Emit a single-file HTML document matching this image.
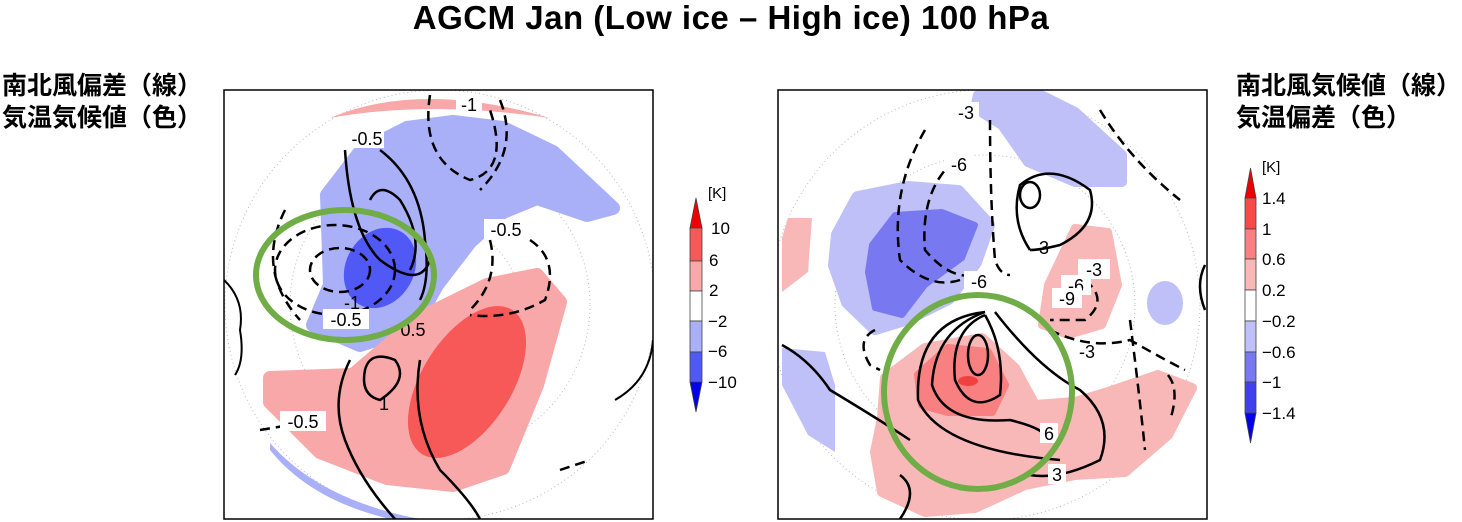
<!DOCTYPE html>
<html><head><meta charset="utf-8"><style>
body{margin:0;background:#fff;width:1462px;height:522px;overflow:hidden;position:relative;font-family:"Liberation Sans","Noto Sans CJK JP",sans-serif}
.t{position:absolute;white-space:nowrap}
</style></head><body>
<div class="t" style="left:0;width:1462px;top:-1px;text-align:center;font-size:33px;font-weight:bold;line-height:38px;letter-spacing:0.5px">AGCM Jan (Low ice – High ice) 100 hPa</div>
<div class="t" style="left:2px;top:70px;font-size:25px;font-weight:bold;line-height:32px">南北風偏差（線）<br>気温気候値（色）</div>
<div class="t" style="left:1236px;top:70px;font-size:25px;font-weight:bold;line-height:32px">南北風気候値（線）<br>気温偏差（色）</div>
<svg width="1462" height="522" style="position:absolute;left:0;top:0" font-family="Liberation Sans, sans-serif">
<defs><clipPath id="cl"><rect x="224" y="90" width="429" height="429"/></clipPath><clipPath id="cr"><rect x="778" y="90" width="429" height="429"/></clipPath></defs>
<g clip-path="url(#cl)">
<circle cx="440" cy="305" r="215" fill="none" stroke="#bbb" stroke-dasharray="1,3"/>
<circle cx="440" cy="305" r="150" fill="none" stroke="#bbb" stroke-dasharray="1,3"/>
<circle cx="440" cy="305" r="80" fill="none" stroke="#bbb" stroke-dasharray="1,3"/>
<path d="M330,118 Q420,80 550,118 Q430,100 330,118Z" fill="#f8a8a8"/>
<path d="M270,443 Q320,500 420,519 L390,519 Q310,500 270,450Z" fill="#aab0f8"/>
<path d="M330,285 L327,195 L360,152 L407,128 L453,122 L503,128 L553,152 L613,208 L587,215 L537,198 L503,212 L470,242 L437,285 L413,328 L360,345 L313,325Z" fill="#aab0f8" stroke="#aab0f8" stroke-width="14" stroke-linejoin="round"/>
<ellipse cx="380" cy="268" rx="34" ry="42" transform="rotate(30 380 268)" fill="#5059f5"/>
<path d="M270,378 L353,375 L420,318 L487,285 L537,275 L560,302 L537,385 L503,468 L453,485 L387,478 L320,452 L270,402Z" fill="#f8a8a8" stroke="#f8a8a8" stroke-width="14" stroke-linejoin="round"/>
<ellipse cx="467" cy="382" rx="45" ry="85" transform="rotate(32 467 382)" fill="#f75858"/>
<g fill="none" stroke="#000" stroke-width="2.5">
<path d="M345,150 Q350,230 380,260 Q420,290 430,260"/>
<path d="M380,150 Q420,180 425,240 Q430,280 420,300"/>
<path d="M370,200 Q380,180 400,200 Q425,240 410,270"/>
<path d="M350,360 Q330,400 345,440 Q360,480 395,519"/>
<path d="M420,360 Q410,420 440,470 Q470,500 480,519"/>
<path d="M365,370 Q370,350 395,360 Q410,380 380,400 Q360,395 365,370"/>
<path d="M615,400 Q650,380 653,340" stroke-width="2"/>
<path d="M224,280 Q245,300 240,330 Q245,360 235,375" stroke-width="2"/>
</g>
<g fill="none" stroke="#000" stroke-width="2.5" stroke-dasharray="10,6">
<ellipse cx="340" cy="270" rx="30" ry="22"/>
<ellipse cx="335" cy="270" rx="60" ry="45"/>
<path d="M285,210 Q255,270 300,320"/>
<path d="M430,95 Q420,160 470,180 Q510,170 490,110"/>
<path d="M500,100 Q520,150 480,190"/>
<path d="M490,240 Q500,280 470,310"/>
<path d="M530,240 Q560,260 545,300 Q510,320 470,315"/>
<path d="M260,430 L320,420"/>
<path d="M560,470 L590,460"/>
</g>
<g font-size="18" text-anchor="middle"><rect x="350" y="128" width="34" height="20" fill="#fff"/><text x="367" y="145">-0.5</text>
<rect x="456" y="94" width="26" height="20" fill="#fff"/><text x="469" y="111">-1</text>
<rect x="484" y="219" width="44" height="20" fill="#fff"/><text x="506" y="236">-0.5</text>
<rect x="323" y="309" width="46" height="20" fill="#fff"/><text x="346" y="326">-0.5</text>
<text x="352" y="309">-1</text><text x="413" y="336">0.5</text><text x="384" y="410">1</text>
<rect x="280" y="411" width="46" height="20" fill="#fff"/><text x="303" y="428">-0.5</text></g>
<ellipse cx="345" cy="275" rx="89" ry="65" fill="none" stroke="#70ad47" stroke-width="6"/>
</g>
<rect x="224" y="90" width="429" height="429" fill="none" stroke="#000" stroke-width="1.5"/>
<g clip-path="url(#cr)">
<circle cx="985" cy="305" r="215" fill="none" stroke="#bbb" stroke-dasharray="1,3"/>
<circle cx="985" cy="305" r="150" fill="none" stroke="#bbb" stroke-dasharray="1,3"/>
<path d="M838,235 L858,198 L908,188 L958,192 L988,225 L975,262 L948,298 L908,318 L875,328 L848,302 L835,265Z" fill="#c0c0f8" stroke="#c0c0f8" stroke-width="14" stroke-linejoin="round"/>
<path d="M872,245 L895,215 L942,212 L975,225 L962,258 L925,285 L902,315 L875,308 L868,272Z" fill="#7878f0" stroke="#7878f0" stroke-width="6" stroke-linejoin="round"/>
<path d="M978,95 L1035,92 L1075,112 L1122,155 L1122,182 L1075,182 L1028,162 L1002,125 L975,108Z" fill="#c0c0f8" stroke="#c0c0f8" stroke-width="10" stroke-linejoin="round"/>
<path d="M782,348 L825,352 L835,385 L835,452 L808,435 L782,385Z" fill="#c0c0f8"/>
<ellipse cx="1165" cy="303" rx="18" ry="22" fill="#c0c0f8"/>
<path d="M885,378 L925,348 L982,338 L1015,368 L1035,405 L1075,402 L1108,392 L1158,375 L1192,388 L1168,435 L1125,472 L1075,475 L1025,485 L975,508 L925,512 L882,492 L875,452 L882,418Z" fill="#f8b8b8" stroke="#f8b8b8" stroke-width="10" stroke-linejoin="round"/>
<path d="M1048,285 L1075,228 L1108,232 L1118,285 L1102,325 L1068,335 L1042,325Z" fill="#f8b8b8" stroke="#f8b8b8" stroke-width="8" stroke-linejoin="round"/>
<path d="M788,218 L812,218 L808,272 L782,292 L782,238Z" fill="#f8b8b8"/>
<path d="M918,375 L948,348 L988,352 L1005,385 L992,412 L948,412 L922,405Z" fill="#f88080" stroke="#f88080" stroke-width="8" stroke-linejoin="round"/>
<ellipse cx="968" cy="381" rx="10" ry="5" fill="#f04040"/>
<g fill="none" stroke="#000" stroke-width="2.5">
<ellipse cx="978" cy="355" rx="10" ry="20"/>
<path d="M985,315 Q950,330 955,380 Q970,415 1000,395 Q1005,350 985,315"/>
<path d="M985,312 Q935,330 932,385 Q945,425 1010,420 Q1050,430 1045,440"/>
<path d="M985,312 Q915,320 918,400 Q940,450 1060,460"/>
<path d="M995,312 Q1040,370 1080,390 Q1115,420 1100,460 Q1060,480 1030,475"/>
<ellipse cx="1030" cy="195" rx="10" ry="13"/>
<path d="M1030,250 Q1010,220 1020,185 Q1050,160 1090,190 Q1100,225 1060,245 Q1040,250 1030,250"/>
<path d="M782,345 Q810,360 830,390 Q880,420 910,440"/>
<path d="M900,475 Q920,490 900,519"/>
<path d="M1205,265 Q1195,285 1205,310"/>
</g>
<g fill="none" stroke="#000" stroke-width="2.5" stroke-dasharray="10,6">
<path d="M925,130 Q890,190 900,260 Q930,290 960,280"/>
<path d="M955,160 Q920,190 925,250 Q950,280 975,275"/>
<path d="M990,120 Q990,200 995,260 Q1000,275 1010,275"/>
<path d="M1100,110 Q1130,160 1180,200"/>
<path d="M1050,330 Q1090,350 1130,340 Q1165,360 1185,370"/>
<path d="M1130,320 Q1140,400 1145,450"/>
<path d="M1085,280 Q1110,300 1085,320 L1050,320"/>
<path d="M875,330 Q855,340 870,365 L880,370"/>
<path d="M1168,375 Q1180,390 1170,420"/>
</g>
<g font-size="18" text-anchor="middle">
<rect x="953" y="102" width="26" height="20" fill="#fff"/><text x="966" y="119">-3</text>
<rect x="946" y="154" width="26" height="20" fill="#fff"/><text x="959" y="171">-6</text>
<text x="1044" y="254">3</text>
<rect x="964" y="271" width="30" height="20" fill="#fff"/><text x="979" y="288">-6</text>
<rect x="1078" y="259" width="32" height="20" fill="#fff"/><text x="1094" y="276">-3</text>
<rect x="1061" y="275" width="30" height="20" fill="#fff"/><text x="1076" y="292">-6</text>
<rect x="1052" y="288" width="30" height="20" fill="#fff"/><text x="1067" y="305">-9</text>
<text x="1087" y="358">-3</text>
<rect x="1040" y="423" width="18" height="20" fill="#fff"/><text x="1049" y="440">6</text>
<rect x="1048" y="464" width="18" height="20" fill="#fff"/><text x="1057" y="481">3</text></g>
<ellipse cx="978" cy="392" rx="94" ry="97" fill="none" stroke="#70ad47" stroke-width="6"/>
</g>
<rect x="778" y="90" width="429" height="429" fill="none" stroke="#000" stroke-width="1.5"/>
<g stroke="#444" stroke-width="0.8">
<polygon points="690,228 702,228 696,198" fill="#ee0000"/>
<rect x="690" y="228" width="12" height="33" fill="#f75858"/>
<rect x="690" y="261" width="12" height="30" fill="#f8a8a8"/>
<rect x="690" y="291" width="12" height="30" fill="#fff"/>
<rect x="690" y="321" width="12" height="31" fill="#aab0f8"/>
<rect x="690" y="352" width="12" height="30" fill="#5059f5"/>
<polygon points="690,382 702,382 696,412" fill="#0000ee"/>
</g>
<g font-size="17"><text x="708" y="198" font-size="15">[K]</text>
<text x="711" y="234">10</text><text x="709" y="266">6</text><text x="709" y="296">2</text>
<text x="708" y="327">−2</text><text x="708" y="357">−6</text><text x="708" y="388">−10</text></g>
<g stroke="#444" stroke-width="0.8">
<polygon points="1245,198 1256,198 1250.5,168" fill="#ee0000"/>
<rect x="1245" y="198" width="11" height="31" fill="#f84848"/>
<rect x="1245" y="229" width="11" height="30" fill="#f88080"/>
<rect x="1245" y="259" width="11" height="31" fill="#f8b8b8"/>
<rect x="1245" y="290" width="11" height="31" fill="#fff"/>
<rect x="1245" y="321" width="11" height="31" fill="#c0c0f8"/>
<rect x="1245" y="352" width="11" height="30" fill="#7878f0"/>
<rect x="1245" y="382" width="11" height="31" fill="#4040f0"/>
<polygon points="1245,413 1256,413 1250.5,443" fill="#0000ee"/>
</g>
<g font-size="17"><text x="1262" y="172" font-size="15">[K]</text>
<text x="1262" y="204">1.4</text><text x="1262" y="235">1</text><text x="1262" y="265">0.6</text>
<text x="1262" y="296">0.2</text><text x="1262" y="327">−0.2</text><text x="1262" y="358">−0.6</text>
<text x="1262" y="388">−1</text><text x="1262" y="419">−1.4</text></g>
</svg>
</body></html>
